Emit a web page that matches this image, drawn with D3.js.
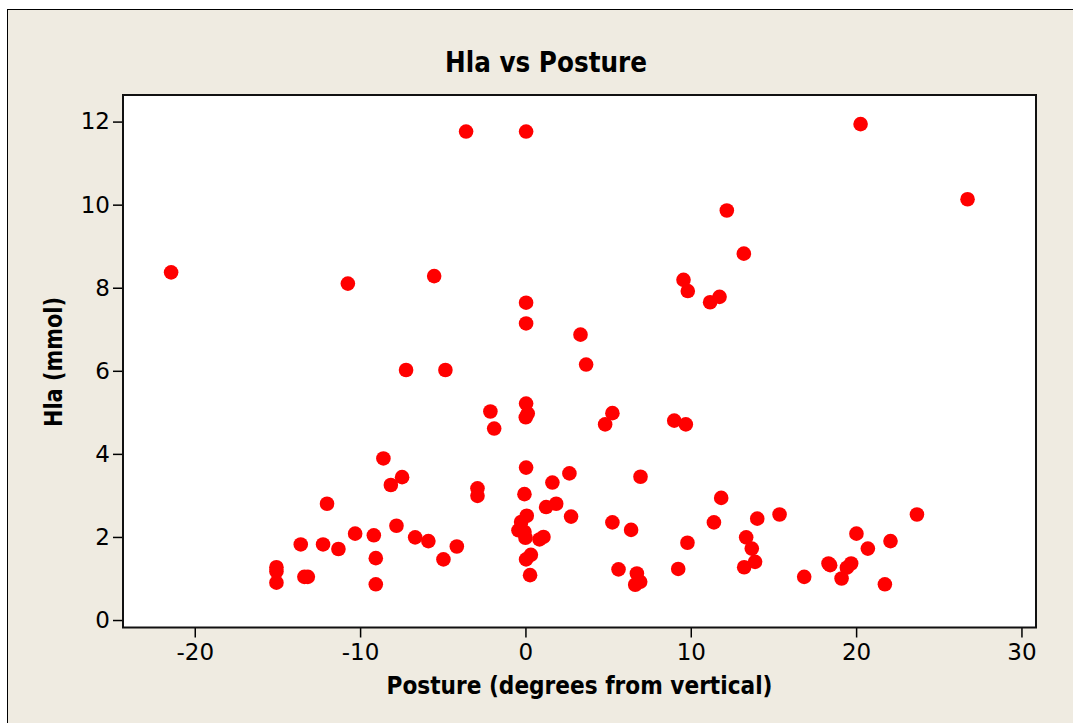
<!DOCTYPE html>
<html>
<head>
<meta charset="utf-8">
<script src="https://d3js.org/d3.v7.min.js"></script>
<style>
  body { margin: 0; background: #ffffff; }
  text { font-family: "DejaVu Sans", Verdana, sans-serif; }
</style>
</head>
<body>
<div id="dataviz_area"></div>
<script>
// data
const posture = [
  -21.43, -10.74, -5.52, -3.59, 0.04, 12.18, 0.04, 0.04, 3.33, 9.56,
  9.82, 11.17, 11.74, 3.67, 20.27, 26.74, 13.21, -7.22, -8.59, -7.46,
  -8.14, -12.0, -7.80, -10.30, -9.17, -6.67, -5.87, -13.59, -12.24, -11.31,
  -9.05, -15.06, -15.06, -15.06, -13.37, -13.16, -9.05, -4.84, -2.12, -1.89,
  0.04, 0.14, 0.02, 5.26, 4.82, 9.0, 9.70, 0.04, -2.90, -2.90,
  -0.06, 1.63, 2.66, 6.96, 1.25, 1.86, 2.76, 5.26, 6.39, 11.84,
  11.40, 9.80, 0.08, -0.26, -0.42, -0.06, 0.0, 0.85, 1.09, 0.33,
  0.04, 0.28, -4.15, -4.96, 5.63, 6.74, 6.94, 6.64, 9.24, 14.02,
  15.37, 13.35, 13.69, 13.89, 13.23, 16.86, 18.33, 18.43, 19.70, 19.44,
  19.12, 20.02, 20.71, 22.08, 21.74, 23.68
];
const hla = [
  8.37, 8.10, 8.28, 11.76, 11.76, 9.86, 7.64, 7.14, 6.87, 8.19,
  7.92, 7.65, 7.78, 6.15, 11.94, 10.13, 8.82, 6.02, 3.89, 3.44,
  3.25, 2.80, 2.27, 2.08, 2.04, 1.99, 1.90, 1.82, 1.82, 1.71,
  1.49, 1.27, 1.17, 0.90, 1.04, 1.04, 0.86, 6.02, 5.02, 4.61,
  5.21, 4.97, 4.88, 4.98, 4.71, 4.80, 4.71, 3.67, 3.17, 2.99,
  3.03, 3.31, 3.53, 3.45, 2.72, 2.80, 2.49, 2.35, 2.17, 2.94,
  2.35, 1.86, 2.51, 2.36, 2.16, 2.12, 1.98, 1.94, 2.00, 1.57,
  1.46, 1.08, 1.77, 1.46, 1.22, 1.12, 0.92, 0.85, 1.23, 2.44,
  2.54, 1.99, 1.72, 1.40, 1.27, 1.04, 1.36, 1.32, 1.36, 1.26,
  1.00, 2.08, 1.72, 1.90, 0.86, 2.54
];
const xTicks = [-20, -10, 0, 10, 20, 30];
const yTicks = [0, 2, 4, 6, 8, 10, 12];

const titleText = "Hla vs Posture";
const xLabel = "Posture (degrees from vertical)";
const yLabel = "Hla (mmol)";

const W = 1073, H = 723;
// plot box in page pixels
const plot = {left: 123, right: 1036, top: 95, bottom: 627.5};

const svg = d3.select("#dataviz_area")
  .append("svg")
    .attr("width", W)
    .attr("height", H);

// beige frame
svg.append("rect")
  .attr("x", 7.5)
  .attr("y", 9.5)
  .attr("width", W + 20)
  .attr("height", H + 20)
  .attr("fill", "#efebe1")
  .attr("stroke", "#000")
  .attr("stroke-width", 1);

// plot background
svg.append("rect")
  .attr("x", plot.left)
  .attr("y", plot.top)
  .attr("width", plot.right - plot.left)
  .attr("height", plot.bottom - plot.top)
  .attr("fill", "#ffffff");

// scales
const x = d3.scaleLinear()
  .domain([-24.34, 30.88])
  .range([plot.left, plot.right]);
const y = d3.scaleLinear()
  .domain([-0.18, 12.64])
  .range([plot.bottom, plot.top]);

// X axis
const xAxis = svg.append("g")
  .attr("transform", `translate(0, ${plot.bottom})`)
  .call(d3.axisBottom(x).tickValues(xTicks).tickSize(10).tickPadding(6).tickFormat(d3.format("d")));
xAxis.select(".domain").remove();
xAxis.selectAll("line").attr("stroke", "#000").attr("stroke-width", 1.5);
xAxis.selectAll("text")
  .attr("font-size", 23)
  .attr("font-family", "DejaVu Sans")
  .attr("fill", "#000")
  .text(d => d < 0 ? "-" + Math.abs(d) : d);

// Y axis
const yAxis = svg.append("g")
  .attr("transform", `translate(${plot.left}, 0)`)
  .call(d3.axisLeft(y).tickValues(yTicks).tickSize(10).tickPadding(3));
yAxis.select(".domain").remove();
yAxis.selectAll("line").attr("stroke", "#000").attr("stroke-width", 1.5);
yAxis.selectAll("text")
  .attr("font-size", 23)
  .attr("font-family", "DejaVu Sans")
  .attr("fill", "#000");

// plot border
svg.append("rect")
  .attr("x", plot.left)
  .attr("y", plot.top)
  .attr("width", plot.right - plot.left)
  .attr("height", plot.bottom - plot.top)
  .attr("fill", "none")
  .attr("stroke", "#111")
  .attr("stroke-width", 2);

// points
const pts = posture.map((p, i) => ({x: p, y: hla[i]}));
svg.append("g")
  .selectAll("circle")
  .data(pts)
  .join("circle")
    .attr("cx", d => x(d.x))
    .attr("cy", d => y(d.y))
    .attr("r", 7.3)
    .attr("fill", "#ff0000");

// title
svg.append("text")
  .attr("x", 546)
  .attr("y", 72)
  .attr("text-anchor", "middle")
  .attr("font-size", 28)
  .attr("font-weight", "bold")
  .attr("textLength", 202)
  .attr("lengthAdjust", "spacingAndGlyphs")
  .text(titleText);

// X axis label
svg.append("text")
  .attr("x", (plot.left + plot.right) / 2)
  .attr("y", 694)
  .attr("text-anchor", "middle")
  .attr("font-size", 25)
  .attr("font-weight", "bold")
  .attr("textLength", 386)
  .attr("lengthAdjust", "spacingAndGlyphs")
  .text(xLabel);

// Y axis label
svg.append("text")
  .attr("transform", `translate(62, 362) rotate(-90)`)
  .attr("text-anchor", "middle")
  .attr("font-size", 25)
  .attr("font-weight", "bold")
  .attr("textLength", 130)
  .attr("lengthAdjust", "spacingAndGlyphs")
  .text(yLabel);
</script>
</body>
</html>
